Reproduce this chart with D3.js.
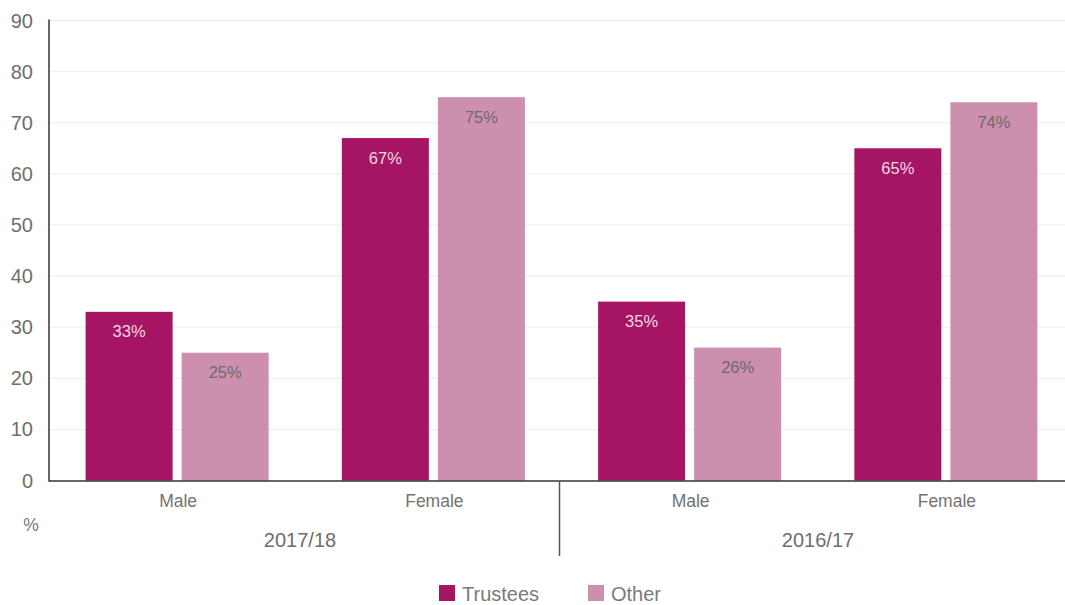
<!DOCTYPE html>
<html>
<head>
<meta charset="utf-8">
<script src="https://cdn.jsdelivr.net/npm/d3@7"></script>
<style>
  html, body { margin: 0; padding: 0; background: #fff; }
  svg { display: block; font-family: "Liberation Sans", Arial, Helvetica, sans-serif; }
</style>
</head>
<body>
<svg id="chart" width="1065" height="605"></svg>
<script>
// Gender breakdown: trustees vs other staff, by year
const years = ["2017/18", "2016/17"];
const genders = ["Male", "Female"];
const seriesNames = ["Trustees", "Other"];
const trusteesValues = [33, 67, 35, 65];   // Male, Female (2017/18), Male, Female (2016/17)
const otherValues = [25, 75, 26, 74];
const yTicks = [0, 10, 20, 30, 40, 50, 60, 70, 80, 90];
const seriesColors = ["#a51564", "#cd8fae"];
const labelColors = ["#f3d6e4", "#6b6b6b"];

const svg = d3.select("#chart");

const plotLeft = 49, plotRight = 1074, plotTop = 20.5, plotBottom = 480.5;

// one band per year/gender slot
const slots = years.flatMap(yr => genders.map(g => yr + "|" + g));
const x = d3.scaleBand().domain(slots).range([plotLeft, plotRight]).paddingInner(0).paddingOuter(0);
const xYear = d3.scaleBand().domain(years).range([41, 1077]);
const inner = d3.scaleBand().domain(seriesNames).range([36.6, x.bandwidth() - 36.6]).paddingInner(0.094);
const y = d3.scaleLinear().domain([0, 90]).range([plotBottom, plotTop]);

// gridlines
svg.append("g")
  .selectAll("line")
  .data(yTicks.filter(t => t > 0))
  .join("line")
  .attr("x1", plotLeft).attr("x2", 1065)
  .attr("y1", d => y(d)).attr("y2", d => y(d))
  .attr("stroke", "#ececec").attr("stroke-width", 1);

// y tick labels
svg.append("g")
  .selectAll("text")
  .data(yTicks)
  .join("text")
  .attr("x", 33).attr("y", d => y(d))
  .attr("text-anchor", "end").attr("dominant-baseline", "central")
  .attr("font-size", 20).attr("fill", "#6e6e6e")
  .text(d => d);

// bars
const rows = slots.map((s, i) => ({ slot: s, values: [trusteesValues[i], otherValues[i]] }));
const barGroups = svg.append("g").selectAll("g")
  .data(rows).join("g")
  .attr("transform", d => `translate(${x(d.slot)},0)`);

barGroups.selectAll("rect")
  .data(d => d.values.map((v, j) => ({ v, j })))
  .join("rect")
  .attr("x", d => inner(seriesNames[d.j]))
  .attr("width", inner.bandwidth())
  .attr("y", d => y(d.v))
  .attr("height", d => y(0) - y(d.v))
  .attr("fill", d => seriesColors[d.j]);

barGroups.selectAll("text")
  .data(d => d.values.map((v, j) => ({ v, j })))
  .join("text")
  .attr("x", d => inner(seriesNames[d.j]) + inner.bandwidth() / 2)
  .attr("y", d => y(d.v) + 25.5)
  .attr("text-anchor", "middle")
  .attr("font-size", 16.5)
  .attr("fill", d => labelColors[d.j])
  .text(d => d.v + "%");

// axis lines
svg.append("line")
  .attr("x1", plotLeft).attr("x2", plotLeft).attr("y1", plotTop - 1).attr("y2", plotBottom + 1)
  .attr("stroke", "#333").attr("stroke-width", 1.5);
svg.append("line")
  .attr("x1", plotLeft).attr("x2", 1065).attr("y1", plotBottom + 0.5).attr("y2", plotBottom + 0.5)
  .attr("stroke", "#333").attr("stroke-width", 1.5);

// gender labels
svg.append("g").selectAll("text")
  .data(slots).join("text")
  .attr("x", d => x(d) + x.bandwidth() / 2 + 1)
  .attr("y", 507)
  .attr("text-anchor", "middle")
  .attr("font-size", 17.5).attr("fill", "#737373")
  .text(d => d.split("|")[1]);

// year labels and divider
svg.append("g").selectAll("text")
  .data(years).join("text")
  .attr("x", d => xYear(d) + xYear.bandwidth() / 2)
  .attr("y", 547)
  .attr("text-anchor", "middle")
  .attr("font-size", 20).attr("fill", "#6e6e6e")
  .text(d => d);

svg.append("line")
  .attr("x1", xYear(years[1]) + 0.5).attr("x2", xYear(years[1]) + 0.5)
  .attr("y1", plotBottom + 1).attr("y2", 556)
  .attr("stroke", "#555").attr("stroke-width", 1.5);

// unit label
svg.append("text")
  .attr("x", 31).attr("y", 531)
  .attr("text-anchor", "middle")
  .attr("font-size", 17.5).attr("fill", "#7a7a7a")
  .text("%");

// legend
const legendX = [439, 588];
const legend = svg.append("g").selectAll("g")
  .data(seriesNames).join("g")
  .attr("transform", (d, i) => `translate(${legendX[i]},585)`);
legend.append("rect")
  .attr("width", 16).attr("height", 16)
  .attr("fill", (d, i) => seriesColors[i]);
legend.append("text")
  .attr("x", 23).attr("y", 15.5)
  .attr("font-size", 20).attr("fill", "#7a7a7a")
  .text(d => d);
</script>
</body>
</html>
